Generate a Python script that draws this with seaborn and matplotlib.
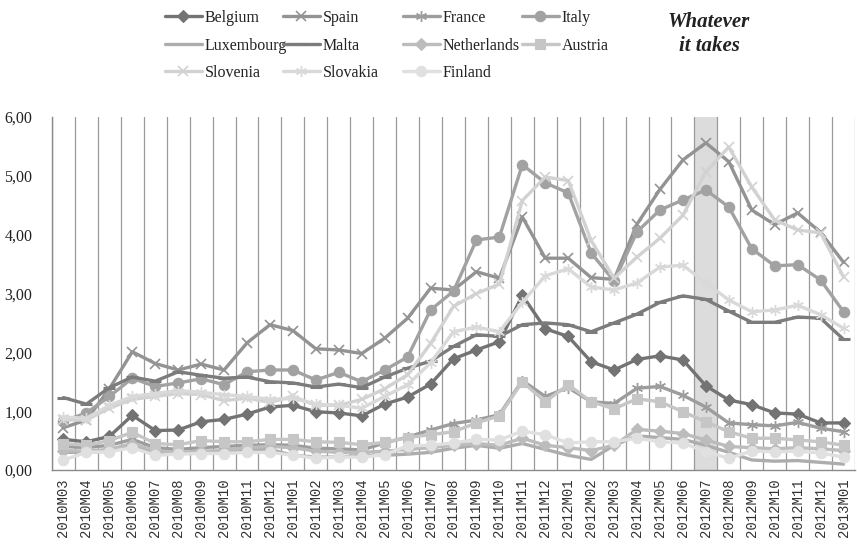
import numpy as np
import pandas as pd
import matplotlib
matplotlib.use("Agg")
import matplotlib.pyplot as plt
import seaborn as sns
from matplotlib.lines import Line2D

periods = ["2010M03", "2010M04", "2010M05", "2010M06", "2010M07", "2010M08", "2010M09",
           "2010M10", "2010M11", "2010M12", "2011M01", "2011M02", "2011M03", "2011M04",
           "2011M05", "2011M06", "2011M07", "2011M08", "2011M09", "2011M10", "2011M11",
           "2011M12", "2012M01", "2012M02", "2012M03", "2012M04", "2012M05", "2012M06",
           "2012M07", "2012M08", "2012M09", "2012M10", "2012M11", "2012M12", "2013M01"]

belgium = [0.52, 0.48, 0.57, 0.93, 0.67, 0.68, 0.82, 0.86, 0.95, 1.07, 1.10, 0.99, 0.97, 0.92,
           1.12, 1.24, 1.46, 1.89, 2.04, 2.18, 2.97, 2.40, 2.27, 1.84, 1.70, 1.88, 1.94, 1.87,
           1.43, 1.19, 1.11, 0.97, 0.95, 0.80, 0.80]
spain = [0.72, 0.85, 1.38, 2.01, 1.81, 1.70, 1.80, 1.70, 2.16, 2.47, 2.37, 2.06, 2.04, 1.98,
         2.24, 2.58, 3.09, 3.06, 3.37, 3.26, 4.30, 3.60, 3.60, 3.27, 3.24, 4.18, 4.77, 5.27,
         5.56, 5.24, 4.42, 4.17, 4.37, 4.04, 3.53]
france = [0.40, 0.38, 0.42, 0.52, 0.38, 0.35, 0.38, 0.40, 0.42, 0.43, 0.42, 0.37, 0.36, 0.34,
          0.46, 0.56, 0.68, 0.79, 0.85, 0.94, 1.52, 1.25, 1.40, 1.16, 1.13, 1.39, 1.42, 1.27,
          1.07, 0.80, 0.77, 0.75, 0.81, 0.71, 0.65]
italy = [0.83, 0.97, 1.25, 1.56, 1.42, 1.48, 1.55, 1.45, 1.67, 1.70, 1.70, 1.53, 1.66, 1.50,
         1.70, 1.92, 2.72, 3.04, 3.91, 3.96, 5.19, 4.88, 4.71, 3.69, 3.21, 4.05, 4.42, 4.59,
         4.76, 4.47, 3.76, 3.47, 3.49, 3.23, 2.69]
luxembourg = [0.30, 0.30, 0.32, 0.42, 0.30, 0.28, 0.30, 0.32, 0.35, 0.35, 0.25, 0.22, 0.22, 0.25,
              0.25, 0.27, 0.30, 0.37, 0.42, 0.37, 0.45, 0.35, 0.25, 0.18, 0.42, 0.58, 0.55, 0.52,
              0.42, 0.30, 0.17, 0.15, 0.16, 0.13, 0.10]
malta = [1.23, 1.12, 1.40, 1.58, 1.51, 1.67, 1.61, 1.56, 1.58, 1.50, 1.48, 1.41, 1.46, 1.40,
         1.58, 1.73, 1.85, 2.10, 2.30, 2.27, 2.47, 2.50, 2.47, 2.35, 2.50, 2.65, 2.85, 2.96,
         2.90, 2.70, 2.51, 2.51, 2.60, 2.58, 2.22]
netherlands = [0.33, 0.32, 0.35, 0.45, 0.33, 0.30, 0.32, 0.33, 0.38, 0.40, 0.38, 0.32, 0.30, 0.30,
               0.32, 0.35, 0.38, 0.42, 0.45, 0.42, 0.54, 0.42, 0.38, 0.33, 0.42, 0.69, 0.66, 0.62,
               0.51, 0.40, 0.38, 0.36, 0.38, 0.36, 0.33]
austria = [0.45, 0.42, 0.50, 0.64, 0.45, 0.43, 0.50, 0.48, 0.48, 0.52, 0.52, 0.48, 0.47, 0.43,
           0.47, 0.55, 0.60, 0.65, 0.80, 0.92, 1.50, 1.16, 1.45, 1.16, 1.04, 1.21, 1.16, 0.99,
           0.82, 0.65, 0.54, 0.54, 0.51, 0.48, 0.42]
slovenia = [0.85, 0.85, 1.05, 1.20, 1.25, 1.30, 1.28, 1.18, 1.22, 1.15, 1.25, 1.10, 1.10, 1.20,
            1.38, 1.62, 2.15, 2.78, 3.00, 3.16, 4.58, 4.98, 4.92, 3.90, 3.26, 3.62, 3.94, 4.33,
            5.07, 5.49, 4.81, 4.25, 4.08, 4.03, 3.28]
slovakia = [0.90, 0.88, 1.10, 1.25, 1.30, 1.35, 1.32, 1.28, 1.25, 1.20, 1.22, 1.12, 1.10, 1.05,
            1.25, 1.45, 1.82, 2.35, 2.43, 2.35, 2.85, 3.30, 3.42, 3.11, 3.06, 3.18, 3.45, 3.48,
            3.18, 2.89, 2.69, 2.72, 2.80, 2.64, 2.41]
finland = [0.17, 0.30, 0.31, 0.38, 0.25, 0.27, 0.28, 0.28, 0.30, 0.30, 0.25, 0.20, 0.22, 0.22,
           0.26, 0.41, 0.42, 0.46, 0.52, 0.51, 0.66, 0.60, 0.46, 0.48, 0.48, 0.54, 0.48, 0.46,
           0.31, 0.20, 0.32, 0.31, 0.32, 0.29, 0.22]

countries = ["Belgium", "Spain", "France", "Italy", "Luxembourg", "Malta",
             "Netherlands", "Austria", "Slovenia", "Slovakia", "Finland"]
series = [belgium, spain, france, italy, luxembourg, malta,
          netherlands, austria, slovenia, slovakia, finland]
highlight_period = "2012M07"

ast = (6, 2, 0)
styles = {
    "Belgium":     dict(color="#737373", marker="D", ms=6.0, mew=0.8),
    "Spain":       dict(color="#939393", marker="x", ms=7.5, mew=1.2),
    "France":      dict(color="#9d9d9d", marker=ast, ms=8.0, mew=1.0),
    "Italy":       dict(color="#a2a2a2", marker="o", ms=7.5, mew=0.8),
    "Luxembourg":  dict(color="#adadad", marker=None, ms=0, mew=0),
    "Malta":       dict(color="#7c7c7c", marker="_", ms=8.0, mew=2.2),
    "Netherlands": dict(color="#bcbcbc", marker="D", ms=6.0, mew=0.8),
    "Austria":     dict(color="#c6c6c6", marker="s", ms=7.5, mew=0.8),
    "Slovenia":    dict(color="#d2d2d2", marker="x", ms=7.5, mew=1.2),
    "Slovakia":    dict(color="#d9d9d9", marker=ast, ms=8.0, mew=1.0),
    "Finland":     dict(color="#e0e0e0", marker="o", ms=7.5, mew=0.8),
}

sns.set_theme(style="white")
plt.rcParams["font.family"] = ["Liberation Serif", "DejaVu Serif"]

fig = plt.figure(figsize=(8.57, 5.59), dpi=100)
ax = fig.add_axes([52 / 857, 1 - 470 / 559, 803 / 857, 353 / 559])

pos = np.arange(len(periods))
df = pd.DataFrame({"pos": np.tile(pos, len(countries)),
                   "value": np.concatenate(series),
                   "country": np.repeat(countries, len(periods))})

hi = periods.index(highlight_period)
ax.axvspan(hi - 0.5, hi + 0.5, color="#dcdcdc", zorder=0.5, lw=0)

for c in countries:
    st = styles[c]
    sub = df[df["country"] == c]
    sns.lineplot(data=sub, x="pos", y="value", ax=ax, color=st["color"],
                 marker=st["marker"] if st["marker"] is not None else "",
                 markersize=st["ms"], markeredgewidth=st["mew"],
                 markeredgecolor=st["color"], linewidth=2.4, legend=False,
                 zorder=3)

ax.set_xlim(-0.5, len(periods) - 0.5)
ax.set_ylim(0, 6)
ax.set_xlabel("")
ax.set_ylabel("")
ax.set_xticks(pos)
ax.set_xticklabels(periods, rotation=90, fontsize=10, family="Liberation Mono",
                   color="#333333")
ax.set_xticks(np.arange(-0.5, len(periods), 1), minor=True)
ax.grid(which="minor", axis="x", color="#9a9a9a", linewidth=0.9, zorder=1)
ax.grid(which="major", axis="both", visible=False)
yt = np.arange(0, 7)
ax.set_yticks(yt)
ax.set_yticklabels([f"{v:.2f}".replace(".", ",") for v in yt], fontsize=11.5,
                   color="#222222")
ax.tick_params(axis="y", which="both", length=0, pad=14)
ax.tick_params(axis="x", which="both", length=0, pad=6)
for s in ["top", "right"]:
    ax.spines[s].set_visible(False)
for s in ["left", "bottom"]:
    ax.spines[s].set_color("#8a8a8a")
    ax.spines[s].set_linewidth(1.0)

# legend: 4 columns placed like the reference
col_members = [["Belgium", "Luxembourg", "Slovenia"],
               ["Spain", "Malta", "Slovakia"],
               ["France", "Netherlands", "Finland"],
               ["Italy", "Austria"]]
col_x = [165, 283, 403, 522]
for members, xpx in zip(col_members, col_x):
    handles = []
    for c in members:
        st = styles[c]
        handles.append(Line2D([], [], color=st["color"], lw=2.4,
                              marker=st["marker"] if st["marker"] is not None else "",
                              markersize=st["ms"], markeredgewidth=st["mew"],
                              markeredgecolor=st["color"]))
    leg = fig.legend(handles, members, loc="upper left",
                     bbox_to_anchor=(xpx / 857, 1 - 10 / 559),
                     frameon=False, fontsize=11.5, handlelength=2.3,
                     handletextpad=0.2, labelspacing=0.72, borderpad=0,
                     borderaxespad=0)
    for t in leg.get_texts():
        t.set_color("#222222")

fig.text(709 / 857, 1 - 34 / 559, "Whatever\nit takes", ha="center", va="center",
         fontsize=15, fontweight="bold", fontstyle="italic", color="#222222",
         linespacing=1.3, family="Liberation Serif")

fig.savefig("out.png", dpi=100)
